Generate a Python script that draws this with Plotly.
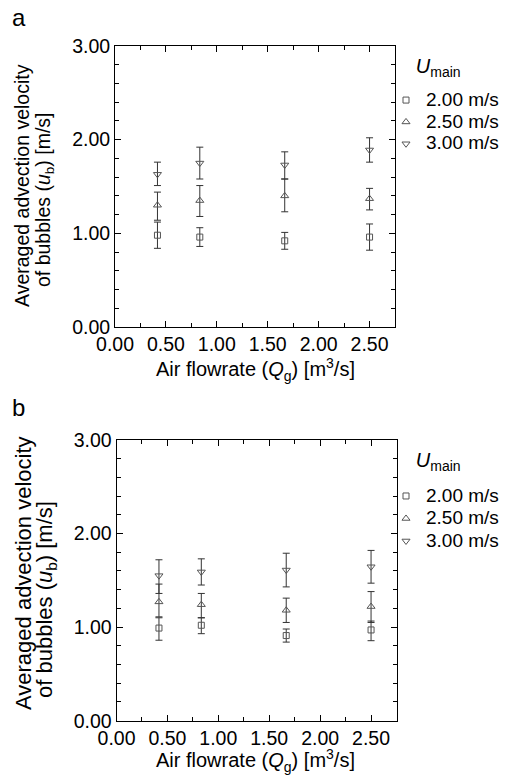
import plotly.graph_objects as go

# ---- data ----
Q = [0.417, 0.833, 1.667, 2.5]
series_names = ["2.00 m/s", "2.50 m/s", "3.00 m/s"]

# panel a
a_mean = [[0.98, 0.96, 0.92, 0.96], [1.30, 1.35, 1.40, 1.37], [1.63, 1.75, 1.73, 1.89]]
a_top = [[1.12, 1.06, 1.01, 1.10], [1.44, 1.51, 1.58, 1.48], [1.76, 1.92, 1.87, 2.02]]
a_bot = [[0.84, 0.86, 0.83, 0.82], [1.14, 1.18, 1.23, 1.25], [1.51, 1.58, 1.58, 1.76]]

# panel b
b_mean = [[0.99, 1.02, 0.91, 0.97], [1.27, 1.24, 1.18, 1.22], [1.55, 1.59, 1.61, 1.645]]
b_top = [[1.10, 1.10, 0.98, 1.065], [1.46, 1.36, 1.31, 1.38], [1.72, 1.73, 1.79, 1.82]]
b_bot = [[0.86, 0.93, 0.84, 0.855], [1.11, 1.10, 1.05, 1.05], [1.36, 1.45, 1.43, 1.47]]

x_ticks = [0.0, 0.5, 1.0, 1.5, 2.0, 2.5]
y_ticks = [0.0, 1.0, 2.0, 3.0]

symbols = ["square-open", "triangle-up-open", "triangle-down-open"]
sizes = [6, 7, 7]

W, H = 509, 776
FONT = "Liberation Sans, Arial, sans-serif"

fig = go.Figure()

def add_panel(means, tops, bots, xa, ya, leg):
    for i in range(3):
        fig.add_trace(go.Scatter(
            x=Q, y=means[i], mode="markers",
            name='<span style="font-size:19px">' + series_names[i] + "</span>",
            xaxis=xa, yaxis=ya, legend=leg,
            marker=dict(symbol=symbols[i], size=sizes[i], color="#555555",
                        line=dict(width=1, color="#555555")),
            error_y=dict(type="data", symmetric=False,
                         array=[t - m for t, m in zip(tops[i], means[i])],
                         arrayminus=[m - b for m, b in zip(means[i], bots[i])],
                         color="#333333", thickness=1, width=3.5),
        ))

add_panel(a_mean, a_top, a_bot, "x", "y", "legend")
add_panel(b_mean, b_top, b_bot, "x2", "y2", "legend2")

def px(v): return v / W
def py(v): return 1 - v / H

axis_common = dict(
    showgrid=False, zeroline=False, showline=True, linecolor="black", linewidth=1,
    mirror="ticks", ticks="inside", ticklen=6, tickwidth=1, tickcolor="black",
    tickfont=dict(family=FONT, size=19.5, color="black"), automargin=False,
)

xcommon = dict(axis_common, range=[0, 2.75], tickvals=x_ticks,
               ticktext=[f"{v:.2f}" for v in x_ticks],
               minor=dict(dtick=0.25, ticklen=4, tickwidth=1, tickcolor="black", ticks="inside"))
ycommon = dict(axis_common, range=[0, 3], tickvals=y_ticks,
               ticktext=[f"{v:.2f}" for v in y_ticks],
               minor=dict(dtick=0.2, ticklen=4, tickwidth=1, tickcolor="black", ticks="inside"))

LEG_TITLE = ('&nbsp;<br><span style="font-size:20px">&nbsp;&nbsp;&nbsp;&nbsp;&nbsp;'
             '<i>U</i><sub>main</sub></span><br>&nbsp;')

fig.update_layout(
    width=W, height=H, margin=dict(l=0, r=0, t=0, b=0, autoexpand=False),
    paper_bgcolor="white", plot_bgcolor="white",
    font=dict(family=FONT, color="black"),
    xaxis=dict(xcommon, domain=[px(115), px(395)], anchor="y"),
    yaxis=dict(ycommon, domain=[py(327), py(46)], anchor="x"),
    xaxis2=dict(xcommon, domain=[px(116.5), px(396.5)], anchor="y2"),
    yaxis2=dict(ycommon, domain=[py(720.7), py(440)], anchor="x2"),
    legend=dict(x=px(386), y=py(51), xanchor="left", yanchor="top",
                bgcolor="rgba(0,0,0,0)", itemwidth=30,
                font=dict(family=FONT, size=14.5, color="black"),
                title=dict(text=LEG_TITLE, font=dict(family=FONT, size=8.5))),
    legend2=dict(x=px(386), y=py(441.5), xanchor="left", yanchor="top",
                 bgcolor="rgba(0,0,0,0)", itemwidth=30,
                 font=dict(family=FONT, size=15, color="black"),
                 title=dict(text=LEG_TITLE, font=dict(family=FONT, size=9.8))),
    showlegend=True,
)

ann = []
ann.append(dict(text="a", x=px(10), y=py(17), xanchor="left", yanchor="middle",
                font=dict(size=24)))
ann.append(dict(text="b", x=px(10), y=py(407), xanchor="left", yanchor="middle",
                font=dict(size=24)))
# y titles
ann.append(dict(text="Averaged advection velocity", x=px(22), y=py(186), textangle=-90,
                xanchor="center", yanchor="middle", font=dict(size=19.5)))
ann.append(dict(text="of bubbles (<i>u</i><sub>b</sub>) [m/s]", x=px(45), y=py(200), textangle=-90,
                xanchor="center", yanchor="middle", font=dict(size=19.5)))
ann.append(dict(text="Averaged advection velocity", x=px(23), y=py(573), textangle=-90,
                xanchor="center", yanchor="middle", font=dict(size=22)))
ann.append(dict(text="of bubbles (<i>u</i><sub>b</sub>) [m/s]", x=px(46), y=py(600), textangle=-90,
                xanchor="center", yanchor="middle", font=dict(size=22)))
# x titles
ann.append(dict(text="Air flowrate (<i>Q</i><sub>g</sub>) [m<sup>3</sup>/s]", x=px(255), y=py(369),
                xanchor="center", yanchor="middle", font=dict(size=20)))
ann.append(dict(text="Air flowrate (<i>Q</i><sub>g</sub>) [m<sup>3</sup>/s]", x=px(256), y=py(760),
                xanchor="center", yanchor="middle", font=dict(size=20)))
for a in ann:
    a.update(xref="paper", yref="paper", showarrow=False)
    a["font"].update(family=FONT, color="black")
fig.update_layout(annotations=ann)

fig.write_html("out.html")
